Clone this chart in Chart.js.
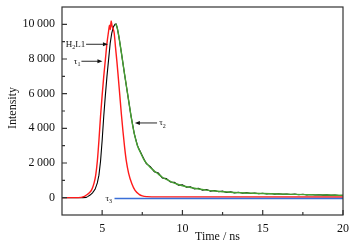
<!DOCTYPE html>
<html lang="en">
  <head>
    <meta charset="utf-8" />
    <title>H2L1 decay</title>
    <style>
      * {
        margin: 0;
        padding: 0;
      }
      body {
        background: #ffffff;
      }
      .chartBox {
        width: 357px;
        height: 247px;
      }
    </style>
  </head>
  <body>
    <div class="chartBox">
      <canvas id="myChart"></canvas>
    </div>
    <script src="https://cdn.jsdelivr.net/npm/chart.js"></script>
    <script>
      // data (time in ns, intensity in counts)
      const blackX = [2.5, 3.0, 3.5, 3.8, 4.0, 4.1, 4.25, 4.4, 4.56, 4.7, 4.8, 4.9, 5.0, 5.1, 5.2, 5.3, 5.4, 5.5, 5.6, 5.7, 5.8, 5.87, 5.95, 6.05, 6.2, 6.4, 6.6, 6.8, 7.0, 7.2, 7.35,
        7.5, 7.75, 8.0, 8.25, 8.5, 8.75, 9.0, 9.25, 9.5, 9.75, 10.0, 10.25, 10.5, 10.75, 11.0, 11.25, 11.5, 11.75, 12.0, 12.25, 12.5, 12.75, 13.0, 13.25, 13.5, 13.75,
        14.0, 14.25, 14.5, 14.75, 15.0, 15.25, 15.5, 15.75, 16.0, 16.25, 16.5, 16.75, 17.0, 17.25, 17.5, 17.75, 18.0, 18.25, 18.5, 18.75, 19.0, 19.25, 19.5, 19.75, 20.0];
      const blackY = [0, 0, 0, 5, 15, 60, 150, 280, 480, 850, 1300, 2100, 3300, 4700, 5900, 7000, 7950, 8900, 9500, 9850, 10000, 10020, 9750, 9250, 8350, 7100, 5900, 4700, 3700, 3000, 2700,
        2420, 1960, 1790, 1500, 1420, 1130, 1100, 900, 890, 720, 740, 600, 630, 505, 540, 430, 470, 380, 415, 340, 375, 300, 335, 275, 310, 255,
        290, 240, 272, 228, 255, 215, 242, 205, 228, 195, 215, 182, 204, 172, 193, 163, 182, 155, 172, 146, 161, 138, 152, 128, 140];

      const redX = [2.5, 3.5, 3.9, 4.05, 4.2, 4.36, 4.5, 4.6, 4.7, 4.8, 4.9, 5.0, 5.1, 5.2, 5.3, 5.4, 5.46, 5.51, 5.56, 5.62, 5.68, 5.75, 5.83, 5.92, 6.0, 6.1, 6.2, 6.3, 6.4, 6.5, 6.65, 6.85, 7.05, 7.3, 7.5, 7.8, 8.5, 20.0];
      const redY = [0, 0, 80, 170, 280, 480, 850, 1300, 2100, 3300, 4700, 5900, 7000, 7950, 8900, 9600, 9950, 9700, 10200, 9900, 9750, 9500, 8700, 7850, 7000, 5900, 4800, 3800, 2900, 2150, 1400, 800, 420, 190, 100, 60, 45, 40];

      const greenX = [5.82, 5.87, 5.95, 6.05, 6.2, 6.4, 6.6, 6.8, 7.0, 7.2, 7.4, 7.6, 7.8, 8.0, 8.25, 8.5, 8.75, 9.0, 9.25, 9.5, 10.0, 10.5, 11.0, 11.5, 12.0, 12.5, 13.0, 14.0, 15.0, 16.0, 17.0, 18.0, 19.0, 20.0];
      const greenY = [9950, 10000, 9750, 9250, 8350, 7100, 5900, 4700, 3700, 3000, 2580, 2200, 1950, 1740, 1540, 1360, 1180, 1050, 940, 840, 690, 585, 500, 435, 385, 345, 310, 268, 238, 212, 190, 170, 150, 132];

      const blueX = [5.77, 20.0];
      const blueY = [-50, -50];

      const xTicks = [5, 10, 15, 20];
      const xMinor = [7.5, 12.5, 17.5];
      const yTicks = [0, 2000, 4000, 6000, 8000, 10000];
      const yMinor = [1000, 3000, 5000, 7000, 9000];

      // labels with arrows, in data units: [text, sub, tail, textX, textY, arrowFromX, arrowToX, align]
      const notes = [
        ['H', '2', 'L1', 3.95, 8850, 4.0, 5.36, 'right'],
        ['\u03c4', '1', '', 3.65, 7870, 3.71, 5.02, 'right'],
        ['\u03c4', '2', '', 8.55, 4310, 8.42, 7.04, 'left'],
        ['\u03c4', '3', '', 5.62, -40, null, null, 'right'],
      ];

      const pts = (xs, ys) => xs.map((x, i) => ({ x: x, y: ys[i] }));
      const serif = "'Liberation Serif', 'DejaVu Serif', serif";

      const fmt = (v) => {
        const s = String(v);
        return s.length > 3 ? s.slice(0, s.length - 3) + '\u2009' + s.slice(-3) : s;
      };

      // box, inward ticks, axis titles, notes
      const framePlugin = {
        id: 'frame',
        afterDraw(chart) {
          const { ctx, chartArea: a, scales } = chart;
          const xs = scales.x, ys = scales.y;
          ctx.save();
          ctx.strokeStyle = '#333';
          ctx.lineWidth = 1.2;
          ctx.strokeRect(a.left, a.top, a.right - a.left, a.bottom - a.top);
          ctx.beginPath();
          xTicks.forEach((v) => {
            const px = xs.getPixelForValue(v);
            ctx.moveTo(px, a.bottom);
            ctx.lineTo(px, a.bottom - 5);
          });
          xMinor.forEach((v) => {
            const px = xs.getPixelForValue(v);
            ctx.moveTo(px, a.bottom);
            ctx.lineTo(px, a.bottom - 3);
          });
          yTicks.forEach((v) => {
            const py = ys.getPixelForValue(v);
            ctx.moveTo(a.left, py);
            ctx.lineTo(a.left + 5, py);
          });
          yMinor.forEach((v) => {
            const py = ys.getPixelForValue(v);
            ctx.moveTo(a.left, py);
            ctx.lineTo(a.left + 3, py);
          });
          ctx.stroke();

          // axis titles
          ctx.fillStyle = '#111';
          ctx.font = '12px ' + serif;
          ctx.textAlign = 'center';
          ctx.textBaseline = 'middle';
          ctx.fillText('Time / ns', (a.left + a.right) / 2 + 15, a.bottom + 22);
          ctx.save();
          ctx.translate(13, (a.top + a.bottom) / 2 - 3);
          ctx.rotate(-Math.PI / 2);
          ctx.fillText('Intensity', 0, 0);
          ctx.restore();

          // notes with arrows
          notes.forEach((n) => {
            const [base, sub, tail, tx, ty, fx, toX, align] = n;
            const py = ys.getPixelForValue(ty);
            const px = xs.getPixelForValue(tx);
            ctx.font = '9px ' + serif;
            const wb = ctx.measureText(base).width;
            ctx.font = '6px ' + serif;
            const ws = ctx.measureText(sub).width;
            ctx.font = '9px ' + serif;
            const wt = ctx.measureText(tail).width;
            const total = wb + ws + wt;
            const x0 = align === 'right' ? px - total : px;
            ctx.textAlign = 'left';
            ctx.textBaseline = 'middle';
            ctx.fillText(base, x0, py);
            ctx.font = '6px ' + serif;
            ctx.fillText(sub, x0 + wb, py + 3);
            ctx.font = '9px ' + serif;
            ctx.fillText(tail, x0 + wb + ws, py);
            if (fx !== null) {
              const p1 = xs.getPixelForValue(fx);
              const p2 = xs.getPixelForValue(toX);
              const dir = p2 > p1 ? 1 : -1;
              ctx.strokeStyle = '#111';
              ctx.lineWidth = 0.9;
              ctx.beginPath();
              ctx.moveTo(p1, py);
              ctx.lineTo(p2 - dir * 3, py);
              ctx.stroke();
              ctx.beginPath();
              ctx.moveTo(p2, py);
              ctx.lineTo(p2 - dir * 5, py - 2);
              ctx.lineTo(p2 - dir * 5, py + 2);
              ctx.closePath();
              ctx.fill();
            }
          });
          ctx.restore();
        },
      };

      const line = (label, data, color, order, width) => ({
        label: label,
        data: data,
        borderColor: color,
        backgroundColor: color,
        borderWidth: width,
        pointRadius: 0,
        fill: false,
        order: order,
      });

      const data = {
        datasets: [
          line('H2L1', pts(blackX, blackY), '#000000', 4, 1.1),
          Object.assign(line('tau2', pts(greenX, greenY), '#46a032', 3, 1.4), { cubicInterpolationMode: 'monotone' }),
          Object.assign(line('tau1', pts(redX, redY), '#ff1a1a', 2, 1.4), { cubicInterpolationMode: 'monotone' }),
          line('tau3', pts(blueX, blueY), '#3a6fd8', 1, 1.5),
        ],
      };

      const config = {
        type: 'line',
        data,
        options: {
          responsive: true,
          maintainAspectRatio: false,
          animation: false,
          layout: { padding: { top: 7, right: 14, left: 0, bottom: 0 } },
          plugins: {
            legend: { display: false },
            tooltip: { enabled: false },
          },
          scales: {
            x: {
              type: 'linear',
              min: 2.5,
              max: 20,
              grid: { display: false, drawTicks: false },
              border: { display: false },
              afterBuildTicks: (s) => {
                s.ticks = xTicks.map((v) => ({ value: v }));
              },
              afterFit: (s) => {
                s.height = 32;
                s.paddingLeft = 0;
                s.paddingRight = 0;
              },
              ticks: {
                padding: 7,
                color: '#111',
                maxRotation: 0,
                font: { family: serif, size: 12 },
                callback: (v) => String(v),
              },
            },
            y: {
              type: 'linear',
              min: -1000,
              max: 11000,
              grid: { display: false, drawTicks: false },
              border: { display: false },
              afterBuildTicks: (s) => {
                s.ticks = yTicks.map((v) => ({ value: v }));
              },
              afterFit: (s) => {
                s.width = 62;
                s.paddingTop = 0;
                s.paddingBottom = 0;
              },
              ticks: {
                padding: 7,
                color: '#111',
                font: { family: serif, size: 12 },
                callback: (v) => fmt(v),
              },
            },
          },
        },
        plugins: [framePlugin],
      };

      const myChart = new Chart(document.getElementById('myChart'), config);
    </script>
  </body>
</html>
